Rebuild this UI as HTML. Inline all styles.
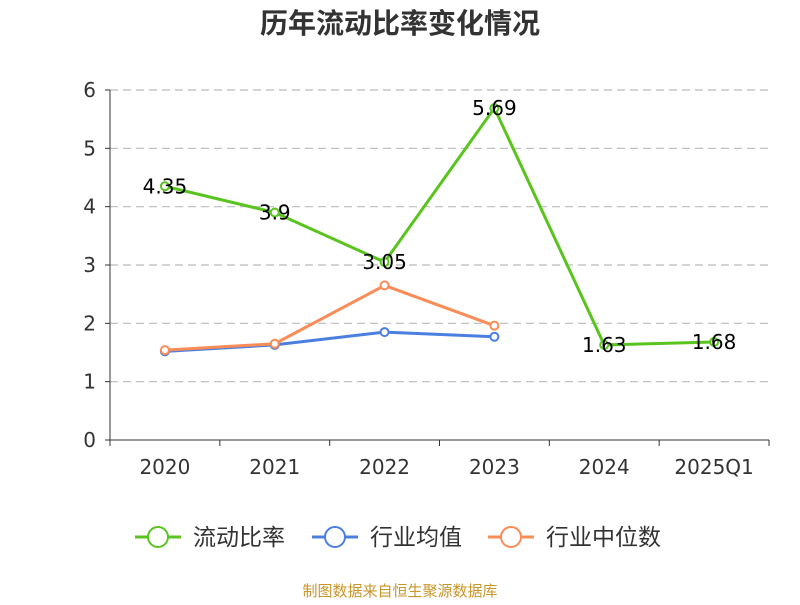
<!DOCTYPE html>
<html><head><meta charset="utf-8"><style>
body{margin:0;background:#fff;}
svg text{font-family:"DejaVu Sans","Noto Sans CJK SC",sans-serif;}
</style></head><body>
<svg width="800" height="600" xmlns="http://www.w3.org/2000/svg">
<text x="400" y="33" text-anchor="middle" font-size="28" font-weight="bold" fill="#333">历年流动比率变化情况</text>
<g id="grid"></g>
<g id="axes"></g>
<g id="series"></g>
<g id="legend"></g>
<text x="400" y="596" text-anchor="middle" font-size="15" fill="#c8962a">制图数据来自恒生聚源数据库</text>
</svg>
<script>
const categories=["2020","2021","2022","2023","2024","2025Q1"];
const ratio=[4.35,3.9,3.05,5.69,1.63,1.68];
const industryMean=[1.52,1.63,1.85,1.77,null,null];
const industryMedian=[1.54,1.65,2.65,1.96,null,null];
const yTicks=[0,1,2,3,4,5,6];
const ns="http://www.w3.org/2000/svg";
const L=110,R=769,T=90,B=440,yMax=6;
const bw=(R-L)/categories.length;
const x=i=>L+bw*(i+0.5);
const y=v=>B-(v/yMax)*(B-T);
function mk(tag,attrs,parent){const e=document.createElementNS(ns,tag);for(const k in attrs)e.setAttribute(k,attrs[k]);parent.appendChild(e);return e;}
const grid=document.getElementById('grid'),axes=document.getElementById('axes'),ser=document.getElementById('series'),leg=document.getElementById('legend');
yTicks.forEach(t=>{
 if(t>0){const g=mk('line',{x1:L,x2:R,y1:y(t),y2:y(t),stroke:'#bbb','stroke-dasharray':'8,5','stroke-width':1.2},grid);
 
 }
 const tk=mk('line',{x1:L-5,x2:L,y1:y(t),y2:y(t),stroke:'#333'},axes);
 
 
 const tx=mk('text',{x:L-14,y:y(t)+7,'text-anchor':'end','font-size':20,fill:'#333'},axes);tx.textContent=t;
 
 
});
const ya=mk('line',{x1:L,x2:L,y1:T,y2:B,stroke:'#333'},axes);


const xa=mk('line',{x1:L,x2:R,y1:B,y2:B,stroke:'#333'},axes);


for(let i=0;i<=categories.length;i++){const t=mk('line',{x1:L+bw*i,x2:L+bw*i,y1:B,y2:B+6,stroke:'#333'},axes);
 
 }
categories.forEach((c,i)=>{const t=mk('text',{x:x(i),y:B+34,'text-anchor':'middle','font-size':20,fill:'#333'},axes);t.textContent=c;
 
 });
function series(data,color,name,labels){
 const pts=[];data.forEach((v,i)=>{if(v!=null)pts.push([x(i),y(v),v]);});
 const p=mk('polyline',{points:pts.map(p=>p[0]+','+p[1]).join(' '),fill:'none',stroke:color,'stroke-width':3},ser);
 
 
 pts.forEach(q=>{const c=mk('circle',{cx:q[0],cy:q[1],r:4,fill:'#fff',stroke:color,'stroke-width':2},ser);
  
  
  if(labels){const t=mk('text',{x:q[0],y:q[1]+7,'text-anchor':'middle','font-size':20,fill:'#000'},ser);t.textContent=q[2];
  
  }
 });
}
series(industryMean,'#4a7fe0','industry-mean',false);
series(industryMedian,'#f98c57','industry-median',false);
series(ratio,'#5ac41f','current-ratio',true);
const items=[["流动比率",'#5ac41f',135],["行业均值",'#4a7fe0',312],["行业中位数",'#f98c57',488]];
items.forEach(it=>{const g=mk('g',{},leg);
 
 
 mk('line',{x1:it[2],x2:it[2]+46,y1:537,y2:537,stroke:it[1],'stroke-width':3},g);
 mk('circle',{cx:it[2]+23,cy:537,r:10,fill:'#fff',stroke:it[1],'stroke-width':2},g);
 const t=mk('text',{x:it[2]+58,y:545,'font-size':23,fill:'#333'},g);t.textContent=it[0];
});
</script>
</body></html>
